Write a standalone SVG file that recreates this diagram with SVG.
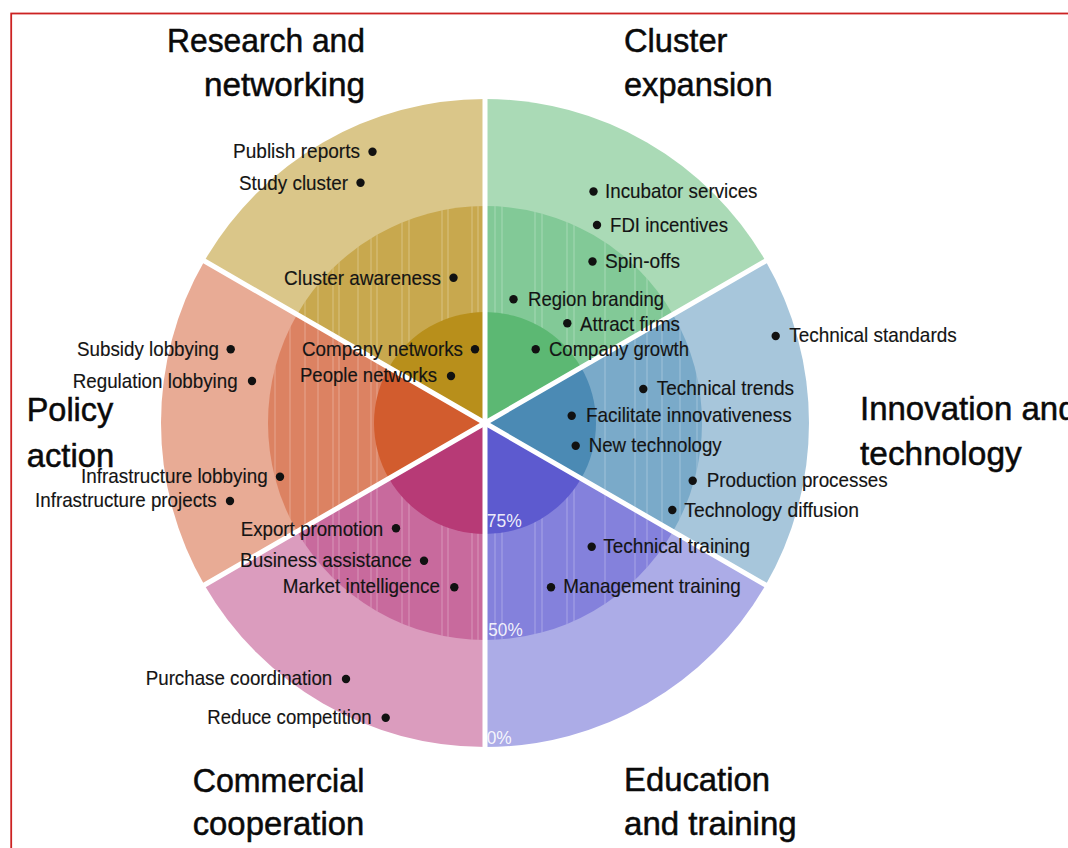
<svg xmlns="http://www.w3.org/2000/svg" xmlns:xlink="http://www.w3.org/1999/xlink" width="1068" height="848" viewBox="0 0 1068 848">
<style>
.lbl{font-family:"Liberation Sans",Arial,sans-serif;font-size:21px;fill:#141414;stroke:#141414;stroke-width:0.15}
.ttl{font-family:"Liberation Sans",Arial,sans-serif;font-size:33px;fill:#0a0a0a;stroke:#0a0a0a;stroke-width:0.5}
.pct{font-family:"Liberation Sans",Arial,sans-serif;font-size:19px;fill:#ffffff;fill-opacity:0.9}
.dot{fill:#111111}
.sep{stroke:#ffffff;stroke-width:5;stroke-linecap:round;fill:none}
.stripe{stroke:#ffffff;stroke-opacity:0.25;stroke-width:1.2}
</style>
<defs>
<g id="stripes">
<line class="stripe" x1="275" y1="200" x2="275" y2="646"/>
<line class="stripe" x1="290" y1="200" x2="290" y2="646"/>
<line class="stripe" x1="305" y1="200" x2="305" y2="646"/>
<line class="stripe" x1="318" y1="200" x2="318" y2="646"/>
<line class="stripe" x1="333" y1="200" x2="333" y2="646"/>
<line class="stripe" x1="339" y1="200" x2="339" y2="646"/>
<line class="stripe" x1="358" y1="200" x2="358" y2="646"/>
<line class="stripe" x1="371" y1="200" x2="371" y2="646"/>
<line class="stripe" x1="377" y1="200" x2="377" y2="646"/>
<line class="stripe" x1="402" y1="200" x2="402" y2="646"/>
<line class="stripe" x1="409" y1="200" x2="409" y2="646"/>
<line class="stripe" x1="442" y1="200" x2="442" y2="646"/>
<line class="stripe" x1="448" y1="200" x2="448" y2="646"/>
<line class="stripe" x1="472" y1="200" x2="472" y2="646"/>
<line class="stripe" x1="478" y1="200" x2="478" y2="646"/>
<line class="stripe" x1="495" y1="200" x2="495" y2="646"/>
<line class="stripe" x1="502" y1="200" x2="502" y2="646"/>
<line class="stripe" x1="535" y1="200" x2="535" y2="646"/>
<line class="stripe" x1="542" y1="200" x2="542" y2="646"/>
<line class="stripe" x1="567" y1="200" x2="567" y2="646"/>
<line class="stripe" x1="574" y1="200" x2="574" y2="646"/>
<line class="stripe" x1="605" y1="200" x2="605" y2="646"/>
<line class="stripe" x1="635" y1="200" x2="635" y2="646"/>
<line class="stripe" x1="647" y1="200" x2="647" y2="646"/>
<line class="stripe" x1="662" y1="200" x2="662" y2="646"/>
<line class="stripe" x1="680" y1="200" x2="680" y2="646"/>
<line class="stripe" x1="697" y1="200" x2="697" y2="646"/>
</g>
<clipPath id="c-green"><path d="M485,423 L485,206 A217,217 0 0 1 672.93,314.5 Z"/></clipPath>
<clipPath id="c-blue"><path d="M485,423 L672.93,314.5 A217,217 0 0 1 672.93,531.5 Z"/></clipPath>
<clipPath id="c-purple"><path d="M485,423 L672.93,531.5 A217,217 0 0 1 485,640 Z"/></clipPath>
<clipPath id="c-pink"><path d="M485,423 L485,640 A217,217 0 0 1 297.07,531.5 Z"/></clipPath>
<clipPath id="c-salmon"><path d="M485,423 L297.07,531.5 A217,217 0 0 1 297.07,314.5 Z"/></clipPath>
<clipPath id="c-yellow"><path d="M485,423 L297.07,314.5 A217,217 0 0 1 485,206 Z"/></clipPath>
</defs>
<rect x="0" y="0" width="1068" height="848" fill="#ffffff"/>
<rect id="frame" x="11.2" y="13.5" width="1100" height="900" fill="none" stroke="#cc2222" stroke-width="1.8"/>

<g id="sector-cluster-expansion">
<path fill="#aadab6" d="M485,423 L485,99 A324,324 0 0 1 765.59,261 Z"/>
<path fill="#82c997" d="M485,423 L485,206 A217,217 0 0 1 672.93,314.5 Z"/>
<g clip-path="url(#c-green)"><use xlink:href="#stripes" href="#stripes"/></g>
<path fill="#5cb873" d="M485,423 L485,312 A111,111 0 0 1 581.13,367.5 Z"/>
</g>
<g id="sector-innovation">
<path fill="#a7c6db" d="M485,423 L765.59,261 A324,324 0 0 1 765.59,585 Z"/>
<path fill="#7aaac9" d="M485,423 L672.93,314.5 A217,217 0 0 1 672.93,531.5 Z"/>
<g clip-path="url(#c-blue)"><use xlink:href="#stripes" href="#stripes"/></g>
<path fill="#4b8ab4" d="M485,423 L581.13,367.5 A111,111 0 0 1 581.13,478.5 Z"/>
</g>
<g id="sector-education">
<path fill="#acace7" d="M485,423 L765.59,585 A324,324 0 0 1 485,747 Z"/>
<path fill="#8481dc" d="M485,423 L672.93,531.5 A217,217 0 0 1 485,640 Z"/>
<g clip-path="url(#c-purple)"><use xlink:href="#stripes" href="#stripes"/></g>
<path fill="#5d5acf" d="M485,423 L581.13,478.5 A111,111 0 0 1 485,534 Z"/>
</g>
<g id="sector-commercial">
<path fill="#db9cbe" d="M485,423 L485,747 A324,324 0 0 1 204.41,585 Z"/>
<path fill="#c86a9d" d="M485,423 L485,640 A217,217 0 0 1 297.07,531.5 Z"/>
<g clip-path="url(#c-pink)"><use xlink:href="#stripes" href="#stripes"/></g>
<path fill="#b73a76" d="M485,423 L485,534 A111,111 0 0 1 388.87,478.5 Z"/>
</g>
<g id="sector-policy">
<path fill="#e8ab95" d="M485,423 L204.41,585 A324,324 0 0 1 204.41,261 Z"/>
<path fill="#dc8262" d="M485,423 L297.07,531.5 A217,217 0 0 1 297.07,314.5 Z"/>
<g clip-path="url(#c-salmon)"><use xlink:href="#stripes" href="#stripes"/></g>
<path fill="#d25c2e" d="M485,423 L388.87,478.5 A111,111 0 0 1 388.87,367.5 Z"/>
</g>
<g id="sector-research">
<path fill="#dac689" d="M485,423 L204.41,261 A324,324 0 0 1 485,99 Z"/>
<path fill="#c8a84e" d="M485,423 L297.07,314.5 A217,217 0 0 1 485,206 Z"/>
<g clip-path="url(#c-yellow)"><use xlink:href="#stripes" href="#stripes"/></g>
<path fill="#b88f1b" d="M485,423 L388.87,367.5 A111,111 0 0 1 485,312 Z"/>
</g>

<g id="connectors">
<line class="sep" x1="485" y1="423" x2="485" y2="97"/>
<line class="sep" x1="485" y1="423" x2="767.3" y2="260"/>
<line class="sep" x1="485" y1="423" x2="767.3" y2="586"/>
<line class="sep" x1="485" y1="423" x2="485" y2="749"/>
<line class="sep" x1="485" y1="423" x2="202.7" y2="586"/>
<line class="sep" x1="485" y1="423" x2="202.7" y2="260"/>
</g>

<g id="scale">
<text class="pct" x="486.7" y="527.3" textLength="35" lengthAdjust="spacingAndGlyphs">75%</text>
<text class="pct" x="488.3" y="636" textLength="34.4" lengthAdjust="spacingAndGlyphs">50%</text>
<text class="pct" x="486.7" y="744.3" textLength="25" lengthAdjust="spacingAndGlyphs">0%</text>
</g>

<g id="labels-research">
<text class="ttl" x="167" y="52" textLength="198" lengthAdjust="spacingAndGlyphs">Research and</text>
<text class="ttl" x="204" y="96" textLength="161" lengthAdjust="spacingAndGlyphs">networking</text>
<text class="lbl" x="233" y="158" textLength="127" lengthAdjust="spacingAndGlyphs">Publish reports</text><circle class="dot" cx="372.5" cy="151.7" r="4.2"/>
<text class="lbl" x="239" y="189.5" textLength="109" lengthAdjust="spacingAndGlyphs">Study cluster</text><circle class="dot" cx="360.5" cy="182.7" r="4.2"/>
<text class="lbl" x="284" y="284.5" textLength="157" lengthAdjust="spacingAndGlyphs">Cluster awareness</text><circle class="dot" cx="453.5" cy="277.7" r="4.2"/>
<text class="lbl" x="302" y="355.5" textLength="161" lengthAdjust="spacingAndGlyphs">Company networks</text><circle class="dot" cx="475" cy="349.3" r="4.2"/>
<text class="lbl" x="300" y="382" textLength="137" lengthAdjust="spacingAndGlyphs">People networks</text><circle class="dot" cx="451" cy="376" r="4.2"/>
</g>

<g id="labels-cluster-expansion">
<text class="ttl" x="624" y="52" textLength="103.5" lengthAdjust="spacingAndGlyphs">Cluster</text>
<text class="ttl" x="624" y="96" textLength="148.5" lengthAdjust="spacingAndGlyphs">expansion</text>
<circle class="dot" cx="593.5" cy="191.5" r="4.2"/><text class="lbl" x="605" y="198" textLength="152.5" lengthAdjust="spacingAndGlyphs">Incubator services</text>
<circle class="dot" cx="597" cy="225" r="4.2"/><text class="lbl" x="610" y="231.5" textLength="118" lengthAdjust="spacingAndGlyphs">FDI incentives</text>
<circle class="dot" cx="592.5" cy="261.5" r="4.2"/><text class="lbl" x="605" y="268" textLength="75" lengthAdjust="spacingAndGlyphs">Spin-offs</text>
<circle class="dot" cx="513.5" cy="299.3" r="4.2"/><text class="lbl" x="528" y="305.5" textLength="136" lengthAdjust="spacingAndGlyphs">Region branding</text>
<circle class="dot" cx="567.3" cy="323.3" r="4.2"/><text class="lbl" x="580" y="330.5" textLength="100" lengthAdjust="spacingAndGlyphs">Attract firms</text>
<circle class="dot" cx="535.7" cy="349.3" r="4.2"/><text class="lbl" x="549" y="355.5" textLength="140" lengthAdjust="spacingAndGlyphs">Company growth</text>
</g>

<g id="labels-innovation">
<text class="ttl" x="860" y="420">Innovation and</text>
<text class="ttl" x="860" y="465" textLength="161.7" lengthAdjust="spacingAndGlyphs">technology</text>
<circle class="dot" cx="775.7" cy="336" r="4.2"/><text class="lbl" x="789.3" y="342.3" textLength="167.4" lengthAdjust="spacingAndGlyphs">Technical standards</text>
<circle class="dot" cx="643.3" cy="389" r="4.2"/><text class="lbl" x="656.7" y="395" textLength="137.3" lengthAdjust="spacingAndGlyphs">Technical trends</text>
<circle class="dot" cx="571.7" cy="415.7" r="4.2"/><text class="lbl" x="586" y="421.7" textLength="205.7" lengthAdjust="spacingAndGlyphs">Facilitate innovativeness</text>
<circle class="dot" cx="575.7" cy="445.7" r="4.2"/><text class="lbl" x="588.7" y="451.7" textLength="133" lengthAdjust="spacingAndGlyphs">New technology</text>
<circle class="dot" cx="692.7" cy="480.7" r="4.2"/><text class="lbl" x="706.7" y="486.7" textLength="181" lengthAdjust="spacingAndGlyphs">Production processes</text>
<circle class="dot" cx="672.3" cy="510" r="4.2"/><text class="lbl" x="684.3" y="516.7" textLength="174.7" lengthAdjust="spacingAndGlyphs">Technology diffusion</text>
</g>

<g id="labels-education">
<text class="ttl" x="624" y="790.7" textLength="146" lengthAdjust="spacingAndGlyphs">Education</text>
<text class="ttl" x="624" y="835" textLength="172.7" lengthAdjust="spacingAndGlyphs">and training</text>
<circle class="dot" cx="591.7" cy="546.7" r="4.2"/><text class="lbl" x="603.3" y="553.3" textLength="146.7" lengthAdjust="spacingAndGlyphs">Technical training</text>
<circle class="dot" cx="551" cy="587.3" r="4.2"/><text class="lbl" x="563.3" y="593.3" textLength="177.4" lengthAdjust="spacingAndGlyphs">Management training</text>
</g>

<g id="labels-commercial">
<text class="ttl" x="192.7" y="791.7" textLength="171.6" lengthAdjust="spacingAndGlyphs">Commercial</text>
<text class="ttl" x="192.7" y="835" textLength="171.6" lengthAdjust="spacingAndGlyphs">cooperation</text>
<text class="lbl" x="240.7" y="535.7" textLength="142.6" lengthAdjust="spacingAndGlyphs">Export promotion</text><circle class="dot" cx="396" cy="528.3" r="4.2"/>
<text class="lbl" x="240" y="566.7" textLength="171.7" lengthAdjust="spacingAndGlyphs">Business assistance</text><circle class="dot" cx="424" cy="560.7" r="4.2"/>
<text class="lbl" x="282.7" y="593.3" textLength="157.3" lengthAdjust="spacingAndGlyphs">Market intelligence</text><circle class="dot" cx="454.3" cy="587.3" r="4.2"/>
<text class="lbl" x="145.7" y="685" textLength="186.6" lengthAdjust="spacingAndGlyphs">Purchase coordination</text><circle class="dot" cx="346" cy="679" r="4.2"/>
<text class="lbl" x="207.3" y="724.3" textLength="164.4" lengthAdjust="spacingAndGlyphs">Reduce competition</text><circle class="dot" cx="385.7" cy="717.7" r="4.2"/>
</g>

<g id="labels-policy">
<text class="ttl" x="26.7" y="421" textLength="86.6" lengthAdjust="spacingAndGlyphs">Policy</text>
<text class="ttl" x="26.7" y="466.5" textLength="87.6" lengthAdjust="spacingAndGlyphs">action</text>
<text class="lbl" x="77" y="355.7" textLength="142" lengthAdjust="spacingAndGlyphs">Subsidy lobbying</text><circle class="dot" cx="230.7" cy="349.3" r="4.2"/>
<text class="lbl" x="72.7" y="387.7" textLength="165" lengthAdjust="spacingAndGlyphs">Regulation lobbying</text><circle class="dot" cx="252" cy="381" r="4.2"/>
<text class="lbl" x="81" y="483" textLength="186.7" lengthAdjust="spacingAndGlyphs">Infrastructure lobbying</text><circle class="dot" cx="280" cy="476.7" r="4.2"/>
<text class="lbl" x="35" y="506.7" textLength="181.7" lengthAdjust="spacingAndGlyphs">Infrastructure projects</text><circle class="dot" cx="230" cy="501" r="4.2"/>
</g>
</svg>
